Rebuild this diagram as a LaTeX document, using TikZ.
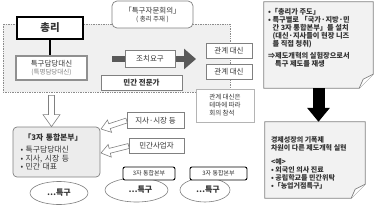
\documentclass[tikz,border=0pt]{standalone}
\usepackage{fontspec}
\setmainfont{Noto Sans CJK KR}
\usetikzlibrary{arrows.meta,positioning,calc,shapes.geometric}

\definecolor{ink}{HTML}{333333}
\definecolor{edge}{HTML}{808080}
\definecolor{lightedge}{HTML}{B4B4B4}
\definecolor{zonefill}{HTML}{F0F0F0}
\definecolor{zoneline}{HTML}{8C8C8C}
\definecolor{hqfill}{HTML}{ECECEC}
\definecolor{memofill}{HTML}{F2F2F2}
\definecolor{reqgray}{HTML}{595959}

\begin{document}
\begin{tikzpicture}[
  x=1pt, y=-1pt,
  font=\fontsize{7.5}{9}\selectfont,
  box/.style={
    draw=edge,
    fill=white,
    line width=.7pt,
    inner sep=1pt,
    align=center,
    text=ink
  },
  zone/.style={draw=zoneline, fill=zonefill, densely dotted, line width=.7pt},
  memo/.style={draw=edge, fill=memofill, line width=.7pt},
  memotext/.style={anchor=north west, align=left, inner sep=0pt, text=ink,
    font=\fontsize{7.2}{8.2}\selectfont\bfseries},
  hollow/.style={draw=edge, fill=white, line width=.6pt},
  smallhq/.style={draw=black, fill=white, rounded corners=2pt, line width=.9pt,
    inner sep=1pt, text=ink, font=\fontsize{6}{7}\selectfont},
  district/.style={ellipse, draw=edge, fill=white, line width=.6pt, inner sep=0pt,
    text=ink, font=\fontsize{8}{9}\selectfont\bfseries},
  bigdown/.style={line width=12pt, draw=black, -{Triangle[length=14pt,width=22pt]}},
  reqline/.style={line width=6pt, draw=reqgray, -{Triangle[length=12pt,width=20pt]}}
]
\useasboundingbox (0,0) rectangle (378,207);

% council area
\node[zone, minimum width=227, minimum height=68, inner sep=0pt] (zone) at (116.5,58) {};

\node[box, draw=black, line width=1.6pt, minimum width=66, minimum height=22,
  font=\fontsize{10.5}{12}\selectfont\bfseries] (chongri) at (50,28) {총리};
\node[box, draw=lightedge!80!black, line width=1.8pt, minimum width=71, minimum height=24]
  (damdang) at (51.5,68)
  {특구담당대신\\[-1pt]{\fontsize{6.5}{7.5}\selectfont\color{edge}(특명담당대신)}};
\draw[line width=2pt] (chongri.south) -- (chongri.south |- damdang.north);

\node[box, rounded corners=5pt, minimum width=81, minimum height=27] (jamun) at (152.5,14.5)
  {「특구자문회의」\\[-1pt]{\fontsize{6.5}{7.5}\selectfont( 총리 주재 )}};

\coordinate (reqfrom) at (112,59);
\coordinate (reqto) at (196,59);
\draw[reqline] (reqfrom) -- (reqto);
\node[box, minimum width=50, minimum height=17] (req) at (150,58.5) {조치요구};

\node[box, minimum width=81, minimum height=15, font=\fontsize{7.5}{9}\selectfont\bfseries]
  (expert) at (141.5,83) {민간 전문가};

\node[box, minimum width=46, minimum height=15] (gwan1) at (229,50.5) {관계 대신};
\node[box, minimum width=46, minimum height=15] (gwan2) at (229,72) {관계 대신};
\node[box, draw=lightedge, minimum width=58, minimum height=33, align=left,
  font=\fontsize{6.5}{8}\selectfont] (gwannote) at (225,105.5)
  {관계 대신은\\테마에 따라\\회의 참석};

% three-party headquarters
\node[box, rounded corners=4pt, fill=hqfill, minimum width=87, minimum height=50,
  text width=72, align=left, inner sep=0pt, font=\fontsize{7.8}{8.4}\selectfont]
  (hq) at (56.5,152)
  {\hspace*{3pt}\textbf{「3자 통합본부」}\\[4pt]• 특구담당대신\\• 지사, 시장 등\\• 민간 대표};

\node[box, minimum width=57, minimum height=16] (jisa) at (155.5,120.5) {지사·시장 등};
\node[box, minimum width=55, minimum height=15] (minsa) at (156.5,146) {민간사업자};

\coordinate (hqfrom) at ($(damdang.south |- zone.south)+(0,3)$);
\coordinate (hqtop) at (damdang.south |- hq.north);
\coordinate (headA) at ($(hqtop)!12pt!(hqfrom)$);
\draw[hollow] ($(hqfrom)!3pt!90:(hqtop)$) -- ($(headA)!3pt!90:(hqtop)$)
  -- ($(headA)!8.5pt!90:(hqtop)$) -- (hqtop) -- ($(headA)!8.5pt!-90:(hqtop)$)
  -- ($(headA)!3pt!-90:(hqtop)$) -- ($(hqfrom)!3pt!-90:(hqtop)$) -- cycle;

\coordinate (hqin1) at (101,129);
\coordinate (headB) at ($(hqin1)!9pt!(jisa.west)$);
\draw[hollow] ($(jisa.west)!2.5pt!90:(hqin1)$) -- ($(headB)!2.5pt!90:(hqin1)$)
  -- ($(headB)!6.5pt!90:(hqin1)$) -- (hqin1) -- ($(headB)!6.5pt!-90:(hqin1)$)
  -- ($(headB)!2.5pt!-90:(hqin1)$) -- ($(jisa.west)!2.5pt!-90:(hqin1)$) -- cycle;

\coordinate (hqin2) at (101,153);
\coordinate (headC) at ($(hqin2)!9pt!(minsa.west)$);
\draw[hollow] ($(minsa.west)!2.5pt!90:(hqin2)$) -- ($(headC)!2.5pt!90:(hqin2)$)
  -- ($(headC)!6.5pt!90:(hqin2)$) -- (hqin2) -- ($(headC)!6.5pt!-90:(hqin2)$)
  -- ($(headC)!2.5pt!-90:(hqin2)$) -- ($(minsa.west)!2.5pt!-90:(hqin2)$) -- cycle;

% districts
\node[district, minimum width=58, minimum height=23] (area1) at (59,193) {…특구};
\node[district, minimum width=63, minimum height=24] (area2) at (136.5,190) {\hspace*{8pt}…특구};
\node[district, minimum width=50, minimum height=24] (area3) at (205,190) {\hspace*{6pt}…특구};
\node[smallhq, minimum width=52, minimum height=13] (hq2) at (149,173.5) {3자 통합본부};
\node[smallhq, minimum width=57, minimum height=13] (hq3) at (218.5,173.5) {3자 통합본부};

% notes on the right
\node[minimum width=109, minimum height=86, inner sep=0pt] (memo1) at (318.5,45) {};
\draw[memo] (memo1.north west) -- (memo1.north east) -- ($(memo1.south east)+(0,-14)$)
  -- ($(memo1.south east)+(-14,0)$) -- (memo1.south west) -- cycle;
\draw[memo, fill=white] ($(memo1.south east)+(0,-14)$) -- ($(memo1.south east)+(-10,-9)$)
  -- ($(memo1.south east)+(-14,0)$);
\node[memotext] (memo1txt) at ($(memo1.north west)+(4,6)$)
  {•「총리가 주도」\\
   • 특구별로 「국가·지방·민\\
   \phantom{• }간 3자 통합본부」를 설치\\
   \phantom{• }(대신·지사들이 현장 니즈\\
   \phantom{• }를 직접 청취)\\[3pt]
   ⇒제도개혁의 실험장으로서\\
   \phantom{⇒}특구 제도를 재생};

\node[minimum width=100, minimum height=76, inner sep=0pt] (memo2) at (315,160) {};
\draw[memo] (memo2.north west) -- (memo2.north east) -- ($(memo2.south east)+(0,-14)$)
  -- ($(memo2.south east)+(-14,0)$) -- (memo2.south west) -- cycle;
\draw[memo, fill=white] ($(memo2.south east)+(0,-14)$) -- ($(memo2.south east)+(-10,-9)$)
  -- ($(memo2.south east)+(-14,0)$);
\node[memotext, font=\fontsize{7}{8}\selectfont\bfseries] (memo2txt)
  at ($(memo2.north west)+(6,15)$)
  {경제성장의 기폭제\\
   차원이 다른 제도개혁 실현\\[6pt]
   <예>\\
   • 외국인 의사 진료\\
   • 공립학교를 민간위탁\\
   •「농업거점특구」};

\draw[bigdown] (memo1.south) -- (memo1.south |- memo2.north);
\end{tikzpicture}
\end{document}
